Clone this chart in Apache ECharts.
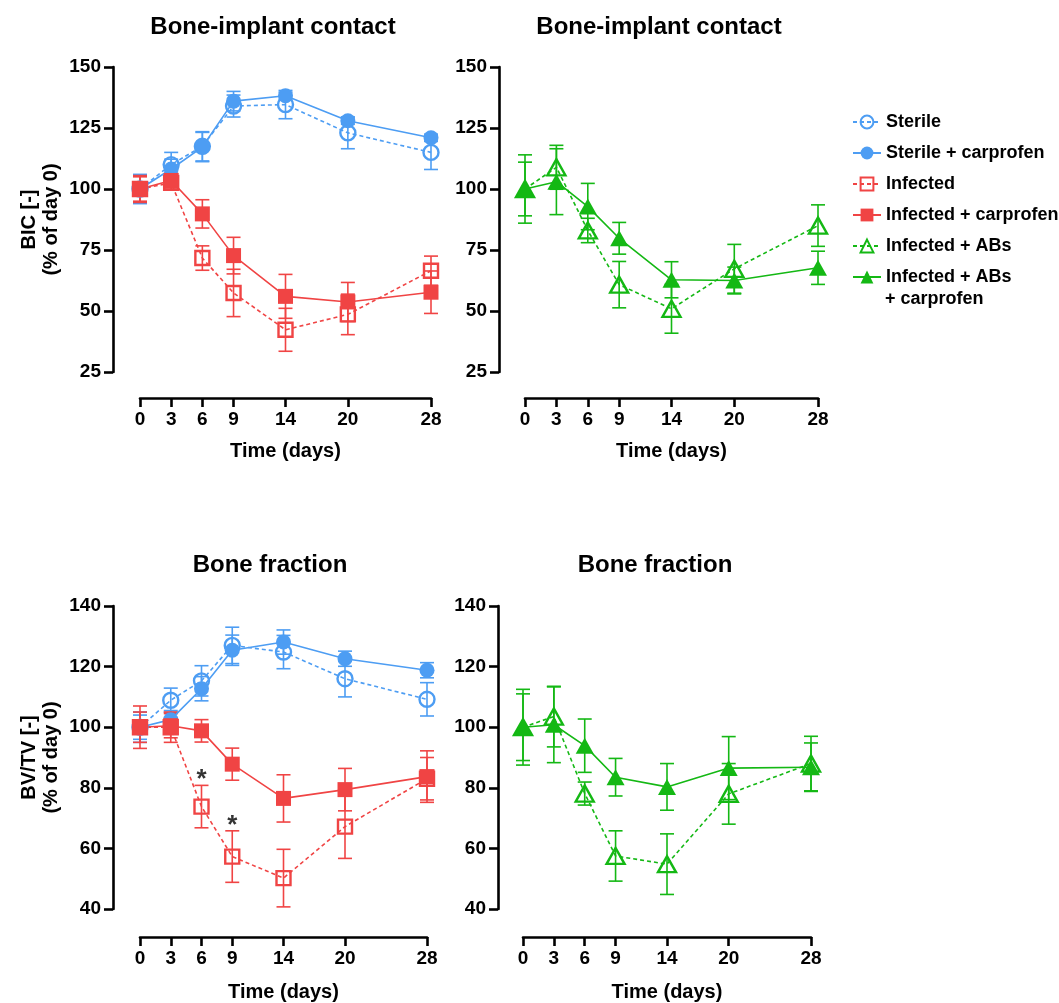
<!DOCTYPE html>
<html>
<head>
<meta charset="utf-8">
<script src="https://cdn.jsdelivr.net/npm/echarts@6/dist/echarts.min.js"></script>
<style>
html,body{margin:0;padding:0;background:#fff;}
#chart{width:1059px;height:1003px;}
</style>
</head>
<body>
<div id="chart"></div>
<script>
// ---------- data ----------
const days = [0, 3, 6, 9, 14, 20, 28];
const xTicks = [0, 3, 6, 9, 14, 20, 28];

const titles = ['Bone-implant contact', 'Bone-implant contact', 'Bone fraction', 'Bone fraction'];
const yNames = ['BIC [-]\n(% of day 0)', 'BV/TV [-]\n(% of day 0)'];
const xName = 'Time (days)';

const groupNames = ['Sterile', 'Sterile + carprofen', 'Infected', 'Infected + carprofen', 'Infected + ABs', 'Infected + ABs + carprofen'];

// BIC (% of day 0)
const bicSterile      = [100, 110, 117.5, 134, 134.6, 123, 115];
const bicSterileErr   = [6, 5, 6, 4.5, 5.8, 6.5, 7];
const bicSterileCarp  = [100, 108.2, 117.2, 136, 138.2, 128, 121];
const bicSterileCarpErr = [5.5, 4, 6, 4, 1.5, 1.5, 1.5];
const bicInf          = [100, 102.5, 71.7, 57.4, 42.3, 48.6, 66.5];
const bicInfErr       = [5.5, 2.5, 5, 9.7, 8.8, 8.3, 6];
const bicInfCarp      = [100, 103.5, 89.8, 72.7, 56, 53.7, 57.7];
const bicInfCarpErr   = [5, 3, 5.8, 7.5, 9, 8, 8.7];
const bicAbs          = [100, 108.9, 83, 60.8, 50.9, 67.3, 85];
const bicAbsErr       = [11, 9, 5, 9.5, 10, 10, 8.5];
const bicAbsCarp      = [100, 103, 92.8, 79.8, 62.8, 62.5, 67.7];
const bicAbsCarpErr   = [14, 13.5, 9.5, 6.5, 7.4, 5.5, 6.8];

// BV/TV (% of day 0)
const bvSterile       = [100, 108.9, 115.3, 127, 124.8, 116, 109.2];
const bvSterileErr    = [5, 4, 5, 6, 5.5, 6, 5.5];
const bvSterileCarp   = [100, 102.5, 112.7, 125.4, 128.1, 122.6, 118.8];
const bvSterileCarpErr = [4, 3, 4, 5, 4, 2.5, 2.5];
const bvInf           = [100, 100, 73.8, 57.3, 50.2, 67.2, 83];
const bvInfErr        = [7, 5, 7, 8.5, 9.5, 10.5, 7];
const bvInfCarp       = [100, 100.5, 98.8, 87.8, 76.5, 79.4, 83.7];
const bvInfCarpErr    = [5, 4, 3.7, 5.3, 7.8, 7, 8.5];
const bvAbs           = [100, 103.5, 78.1, 57.5, 54.8, 78, 88];
const bvAbsErr        = [11, 10, 3.8, 8.3, 10, 10, 9];
const bvAbsCarp       = [100, 100.8, 93.9, 83.5, 80.3, 86.5, 86.8];
const bvAbsCarpErr    = [12.5, 12.5, 8.8, 6.2, 7.7, 10.4, 8];

// significance marks (bottom-left panel)
const sigDays = [6, 9];
const sigValues = [82.5, 67.5];
const sigText = '*';

// ---------- styles ----------
const BLUE = '#4d9df3', RED = '#f04444', GREEN = '#14b814';
const FONT = "'Liberation Sans', Arial, Helvetica, sans-serif";

const styles = {
  'Sterile':                  {color: BLUE,  symbol: 'circle', size: 15, open: true,  dashed: true},
  'Sterile + carprofen':      {color: BLUE,  symbol: 'circle', size: 15, open: false, dashed: false},
  'Infected':                 {color: RED,   symbol: 'rect',   size: 14, open: true,  dashed: true},
  'Infected + carprofen':     {color: RED,   symbol: 'rect',   size: 15, open: false, dashed: false},
  'Infected + ABs':           {color: GREEN, symbol: 'triangle', size: [18, 16], open: true, dashed: true},
  'Infected + ABs + carprofen': {color: GREEN, symbol: 'triangle', size: [18, 16], open: false, dashed: false}
};

const panels = [
  {grid: {left: 140, top: 67, width: 291, height: 305}, yMin: 25, yMax: 150, yInt: 25, yName: yNames[0], yOff: 27, xOff: 26, nameGapX: 43,
   groups: [['Sterile', bicSterile, bicSterileErr], ['Sterile + carprofen', bicSterileCarp, bicSterileCarpErr],
            ['Infected', bicInf, bicInfErr], ['Infected + carprofen', bicInfCarp, bicInfCarpErr]]},
  {grid: {left: 525, top: 67, width: 293, height: 305}, yMin: 25, yMax: 150, yInt: 25, yName: '', yOff: 26, xOff: 26, nameGapX: 43,
   groups: [['Infected + ABs', bicAbs, bicAbsErr], ['Infected + ABs + carprofen', bicAbsCarp, bicAbsCarpErr]]},
  {grid: {left: 140, top: 606, width: 287, height: 303}, yMin: 40, yMax: 140, yInt: 20, yName: yNames[1], yOff: 27, xOff: 28, nameGapX: 45,
   groups: [['Sterile', bvSterile, bvSterileErr], ['Sterile + carprofen', bvSterileCarp, bvSterileCarpErr],
            ['Infected', bvInf, bvInfErr], ['Infected + carprofen', bvInfCarp, bvInfCarpErr]]},
  {grid: {left: 523, top: 606, width: 288, height: 304}, yMin: 40, yMax: 140, yInt: 20, yName: '', yOff: 25, xOff: 28, nameGapX: 45,
   groups: [['Infected + ABs', bvAbs, bvAbsErr], ['Infected + ABs + carprofen', bvAbsCarp, bvAbsCarpErr]]}
];

const axisLine = {show: true, onZero: false, lineStyle: {color: '#000', width: 2.6}};
const axisTick = {show: true, length: 9, lineStyle: {color: '#000', width: 2.6}};
const labelStyle = {color: '#000', fontSize: 19, fontWeight: 'bold', fontFamily: FONT};

const grids = [], xAxes = [], yAxes = [], series = [];

function errItem(params, api) {
  const x = api.value(0), lo = api.value(1), hi = api.value(2);
  const a = api.coord([x, hi]), b = api.coord([x, lo]);
  const hw = 7;
  const st = {stroke: api.visual('color'), lineWidth: 1.6, fill: null};
  return {type: 'group', children: [
    {type: 'line', shape: {x1: a[0], y1: a[1], x2: b[0], y2: b[1]}, style: st},
    {type: 'line', shape: {x1: a[0] - hw, y1: a[1], x2: a[0] + hw, y2: a[1]}, style: st},
    {type: 'line', shape: {x1: b[0] - hw, y1: b[1], x2: b[0] + hw, y2: b[1]}, style: st}
  ]};
}

panels.forEach((p, i) => {
  grids.push(Object.assign({containLabel: false}, p.grid));
  xAxes.push({
    gridIndex: i, type: 'value', min: 0, max: 28, offset: p.xOff,
    axisLine, axisTick: Object.assign({customValues: xTicks}, axisTick),
    axisLabel: Object.assign({customValues: xTicks, margin: 12}, labelStyle),
    splitLine: {show: false},
    name: xName, nameLocation: 'middle', nameGap: p.nameGapX,
    nameTextStyle: {color: '#000', fontSize: 20, fontWeight: 'bold', fontFamily: FONT}
  });
  yAxes.push({
    gridIndex: i, type: 'value', min: p.yMin, max: p.yMax, interval: p.yInt, offset: p.yOff,
    axisLine, axisTick, axisLabel: Object.assign({margin: 12}, labelStyle),
    splitLine: {show: false},
    name: p.yName, nameLocation: 'middle', nameGap: 51, nameRotate: 90,
    nameTextStyle: {color: '#000', fontSize: 20, fontWeight: 'bold', fontFamily: FONT, lineHeight: 22, align: 'center'}
  });
  p.groups.forEach(([name, vals, errs]) => {
    const s = styles[name];
    series.push({
      type: 'custom', xAxisIndex: i, yAxisIndex: i, renderItem: errItem, clip: false, z: 2,
      itemStyle: {color: s.color}, silent: true,
      encode: {x: 0, y: [1, 2]},
      data: days.map((d, k) => [d, vals[k] - errs[k], vals[k] + errs[k]])
    });
  });
  p.groups.forEach(([name, vals]) => {
    const s = styles[name];
    series.push({
      name, type: 'line', xAxisIndex: i, yAxisIndex: i, clip: false, z: 3,
      symbol: s.symbol, symbolSize: s.size, showSymbol: true,
      lineStyle: {color: s.color, width: 1.6, type: s.dashed ? [4, 3] : 'solid'},
      itemStyle: s.open ? {color: 'rgba(255,255,255,0)', borderColor: s.color, borderWidth: 2.4}
                        : {color: s.color, borderColor: s.color, borderWidth: 0},
      emphasis: {disabled: true},
      data: days.map((d, k) => [d, vals[k]])
    });
  });
});

// significance asterisks
series.push({
  type: 'scatter', xAxisIndex: 2, yAxisIndex: 2, symbol: 'circle', symbolSize: 1,
  itemStyle: {color: 'rgba(0,0,0,0)'}, silent: true, z: 5,
  label: {show: true, position: 'inside', formatter: sigText, color: '#000', fontSize: 26, fontWeight: 'bold', fontFamily: FONT},
  data: sigDays.map((d, k) => [d, sigValues[k]])
});

const titleStyle = {color: '#000', fontSize: 24, fontWeight: 'bold', fontFamily: FONT};
const titleOpts = [
  {text: titles[0], left: 273, top: 15},
  {text: titles[1], left: 659, top: 15},
  {text: titles[2], left: 270, top: 553},
  {text: titles[3], left: 655, top: 553}
].map(t => Object.assign(t, {textAlign: 'center', padding: 0, textStyle: titleStyle}));

const option = {
  animation: false,
  backgroundColor: '#fff',
  title: titleOpts,
  grid: grids,
  xAxis: xAxes,
  yAxis: yAxes,
  legend: {
    data: groupNames, orient: 'vertical', left: 852, top: 112, padding: 0,
    itemWidth: 28, itemHeight: 16, itemGap: 11, selectedMode: false,
    formatter: n => n === 'Infected + ABs + carprofen' ? 'Infected + ABs' : n,
    textStyle: {color: '#000', fontSize: 18, fontWeight: 'bold', fontFamily: FONT, lineHeight: 20}
  },
  graphic: [{
    type: 'text', left: 885, top: 290,
    style: {text: '+ carprofen', fill: '#000', font: "bold 18px 'Liberation Sans', Arial, sans-serif"}
  }],
  series
};

const chart = echarts.init(document.getElementById('chart'), null, {renderer: 'canvas'});
chart.setOption(option);
</script>
</body>
</html>
